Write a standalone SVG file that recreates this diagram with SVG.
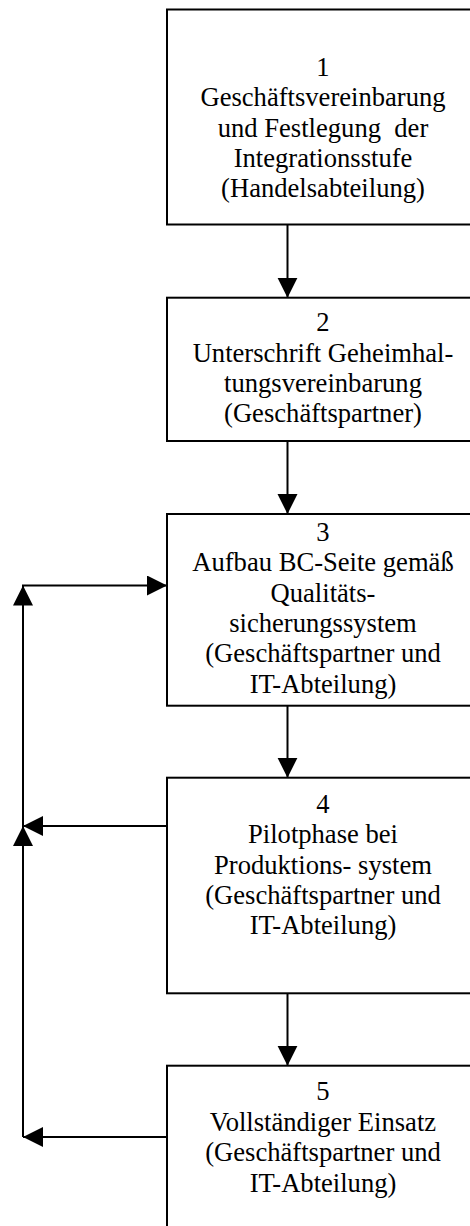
<svg xmlns="http://www.w3.org/2000/svg" width="470" height="1226" viewBox="0 0 470 1226">
  <style>
    .box { fill: #ffffff; stroke: #000000; stroke-width: 2; }
    .lbl { font-family: "Liberation Serif", "Times New Roman", serif; font-size: 26.6px; fill: #000000; text-anchor: middle; }
    .con { fill: none; stroke: #000000; stroke-width: 2; }
  </style>
  <defs>
    <marker id="arr" markerUnits="userSpaceOnUse" markerWidth="21" markerHeight="21" refX="20" refY="10" orient="auto">
      <path d="M0,0 L20,10 L0,20 Z" fill="#000000"/>
    </marker>
  </defs>
  <rect width="470" height="1226" fill="#ffffff"/>

  <g id="node1">
    <rect class="box" x="167" y="9.5" width="320" height="215"/>
    <text class="lbl" x="323" y="76">1</text>
    <text class="lbl" x="323" y="106.3">Geschäftsvereinbarung</text>
    <text class="lbl" x="323" y="136.6" xml:space="preserve">und Festlegung  der</text>
    <text class="lbl" x="323" y="166.9">Integrationsstufe</text>
    <text class="lbl" x="323" y="197.2">(Handelsabteilung)</text>
  </g>

  <g id="node2">
    <rect class="box" x="167" y="297.7" width="320" height="143.3"/>
    <text class="lbl" x="323" y="331">2</text>
    <text class="lbl" x="323" y="361.5">Unterschrift Geheimhal-</text>
    <text class="lbl" x="323" y="391.8">tungsvereinbarung</text>
    <text class="lbl" x="323" y="422">(Geschäftspartner)</text>
  </g>

  <g id="node3">
    <rect class="box" x="167" y="514" width="320" height="191.7"/>
    <text class="lbl" x="323" y="541">3</text>
    <text class="lbl" x="323" y="571.3">Aufbau BC-Seite gemäß</text>
    <text class="lbl" x="323" y="601.6">Qualitäts-</text>
    <text class="lbl" x="323" y="631.9">sicherungssystem</text>
    <text class="lbl" x="323" y="662.2">(Geschäftspartner und</text>
    <text class="lbl" x="323" y="692.5">IT-Abteilung)</text>
  </g>

  <g id="node4">
    <rect class="box" x="167" y="777.7" width="320" height="215.6"/>
    <text class="lbl" x="323" y="812.7">4</text>
    <text class="lbl" x="323" y="843.2">Pilotphase bei</text>
    <text class="lbl" x="323" y="873.6">Produktions- system</text>
    <text class="lbl" x="323" y="904">(Geschäftspartner und</text>
    <text class="lbl" x="323" y="934.3">IT-Abteilung)</text>
  </g>

  <g id="node5">
    <rect class="box" x="167" y="1065.7" width="320" height="200"/>
    <text class="lbl" x="323" y="1100">5</text>
    <text class="lbl" x="323" y="1130.7">Vollständiger Einsatz</text>
    <text class="lbl" x="323" y="1161.3">(Geschäftspartner und</text>
    <text class="lbl" x="323" y="1191.7">IT-Abteilung)</text>
  </g>

  <g id="connectors">
    <line class="con" x1="287.5" y1="224.5" x2="287.5" y2="297.7" marker-end="url(#arr)"/>
    <line class="con" x1="287.5" y1="441" x2="287.5" y2="514" marker-end="url(#arr)"/>
    <line class="con" x1="287.5" y1="705.7" x2="287.5" y2="777.7" marker-end="url(#arr)"/>
    <line class="con" x1="287.5" y1="993.3" x2="287.5" y2="1065.7" marker-end="url(#arr)"/>
    <line class="con" x1="167" y1="1137" x2="23" y2="1137" marker-end="url(#arr)"/>
    <line class="con" x1="23" y1="1137" x2="23" y2="826" marker-end="url(#arr)"/>
    <line class="con" x1="167" y1="826" x2="23" y2="826" marker-end="url(#arr)"/>
    <line class="con" x1="23" y1="826" x2="23" y2="585.5" marker-end="url(#arr)"/>
    <line class="con" x1="22" y1="585.5" x2="167" y2="585.5" marker-end="url(#arr)"/>
  </g>
</svg>
